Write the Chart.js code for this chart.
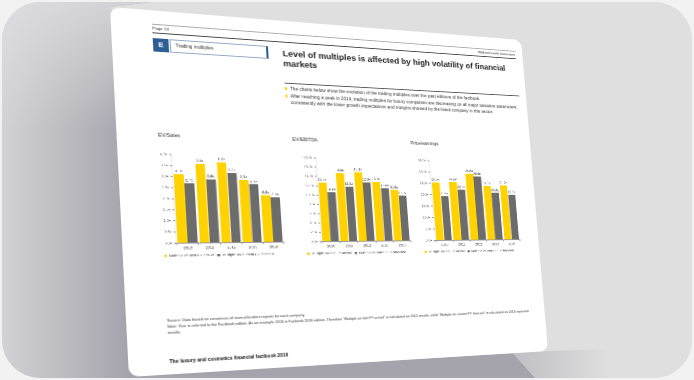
<!DOCTYPE html>
<html>
<head>
<meta charset="utf-8">
<script src="https://cdn.jsdelivr.net/npm/chart.js@4.4.0/dist/chart.umd.min.js"></script>
<style>
  html, body { margin: 0; padding: 0; width: 694px; height: 380px; overflow: hidden; background: #f2f2f3; }
  #frame { position: absolute; left: 2px; top: 2px; width: 690px; height: 376px; border-radius: 38px; overflow: hidden; background: #dfdfdf; }
  #bg { position: absolute; left: -2px; top: -2px; }
  #page { position: absolute; left: 0; top: 0; width: 420px; height: 370px; background: #fff; border-radius: 9px;
          transform-origin: 0 0; font-family: "Liberation Sans Narrow", "Liberation Sans", Arial, sans-serif; color: #333; }
  #page div, #page canvas { position: absolute; }
  .rule { height: 0; }
  .small { font-size: 4px; white-space: nowrap; }
  .ebox { background: #2d5d95; color: #fff; font: bold 7px "Liberation Sans", Arial, sans-serif; text-align: center; line-height: 14px; }
  .tbox { border: 0.6px solid #8fa8c6; border-right: 2.2px solid #2d5d95; font-size: 4.6px; line-height: 12px; padding-left: 4px; box-sizing: border-box; }
  .title { font-weight: bold; font-size: 8.8px; line-height: 10.5px; color: #222; }
  .bullet { font-size: 4.7px; line-height: 7px; padding-left: 5px; }
  .bullet i { position: absolute; left: 0; top: 2.4px; width: 2.2px; height: 2.2px; background: #ffd200; }
  .ctitle { font-size: 4.8px; color: #333; white-space: nowrap; }
  .foot { font-weight: bold; font-size: 4.6px; white-space: nowrap; color: #111; }
</style>
</head>
<body>
<div id="frame"><canvas id="bg" width="694" height="380"></canvas></div>

<div id="page">
  <div class="rule" style="left:36px; top:14px; width:376px; border-top:0.5px solid #aaa;"></div>
  <div class="small" style="left:36px; top:16px;">Page 24</div>
  <div class="small" style="right:9px; top:17px; font-size:3.4px;">M&amp;A and wealth transactions</div>
  <div class="rule" style="left:36px; top:23px; width:376px; border-top:1px solid #444;"></div>

  <div class="ebox" style="left:36px; top:29px; width:14px; height:14px;">E</div>
  <div class="tbox" style="left:51px; top:29px; width:92px; height:14px;">Trading multiples</div>

  <div class="title" style="left:157px; top:31px; width:255px;">Level of multiples is affected by high volatility of financial markets</div>
  <div class="rule" style="left:157px; top:68px; width:255px; border-top:1.2px solid #555;"></div>
  <div class="bullet" style="left:157px; top:71px; width:252px;"><i></i>The charts below show the evolution of the trading multiples over the past editions of the factbook.</div>
  <div class="bullet" style="left:157px; top:79px; width:252px;"><i></i>After reaching a peak in 2014, trading multiples for luxury companies are decreasing on all major valuation parameters, consistently with the lower growth expectations and margins showed by the listed company in this sector.</div>

  <div class="ctitle" style="left:36px; top:127px;">EV/Sales</div>
  <div class="ctitle" style="left:161px; top:127px;">EV/EBITDA</div>
  <div class="ctitle" style="left:283px; top:127px;">Price/earnings</div>

  <canvas id="c1" style="left:26px; top:144px; width:122px; height:120px;"></canvas>
  <canvas id="c2" style="left:162px; top:144px; width:115px; height:120px;"></canvas>
  <canvas id="c3" style="left:281px; top:144px; width:119px; height:120px;"></canvas>

  <div class="small" style="left:35px; top:314px; width:376px; white-space:normal; font-size:3.6px; line-height:6px;">Source: Data based on consensus of several brokers reports for each company.<br>Note: Year is referred to the Factbook edition. As an example 2016 is Factbook 2016 edition. Therefore "Multiple on last FY actual" is calculated on 2015 results, while "Multiple on current FY forecast" is calculated on 2016 expected results.</div>
  <div class="foot" style="left:35px; top:355px;">The luxury and cosmetics financial factbook 2016</div>
</div>

<script>
// data
const years = ['2010', '2011', '2012', '2013', '2014'];
const seriesNames = ['Multiple on last FY actual', 'Multiple on current FY forecast'];

const evSalesActual = [3.1, 3.6, 3.7, 2.9, 2.2];
const evSalesForecast = [2.7, 2.9, 3.2, 2.7, 2.1];

const evEbitdaActual = [12.7, 14.8, 15.1, 13.0, 11.3];
const evEbitdaForecast = [10.6, 11.9, 12.9, 11.6, 10.0];

const peActual = [25.5, 25.6, 29.6, 24.2, 24.6];
const peForecast = [19.4, 22.4, 28.4, 21.2, 20.4];

const axisMax = [4, 18, 35];
const axisStep = [0.5, 2, 5];

const YELLOW = '#ffd200';
const GREY = '#6c6c6c';

// page corners in the photo: TL, TR, BR, BL
const corners = [[110, 7], [521, 40], [548, 351], [129, 377]];

function quadTransform(w, h, p) {
  const [x0, y0] = p[0], [x1, y1] = p[1], [x2, y2] = p[2], [x3, y3] = p[3];
  const dx1 = x1 - x2, dx2 = x3 - x2, dx3 = x0 - x1 + x2 - x3;
  const dy1 = y1 - y2, dy2 = y3 - y2, dy3 = y0 - y1 + y2 - y3;
  const den = dx1 * dy2 - dx2 * dy1;
  const g = (dx3 * dy2 - dx2 * dy3) / den;
  const hh = (dx1 * dy3 - dx3 * dy1) / den;
  const a = x1 - x0 + g * x1, b = x3 - x0 + hh * x3, c = x0;
  const d = y1 - y0 + g * y1, e = y3 - y0 + hh * y3, f = y0;
  const m = [a / w, d / w, 0, g / w, b / h, e / h, 0, hh / h, 0, 0, 1, 0, c, f, 0, 1];
  return 'matrix3d(' + m.join(',') + ')';
}

document.getElementById('page').style.transform = quadTransform(420, 370, corners);

// backdrop with the page's shadow
(function drawBackdrop() {
  const ctx = document.getElementById('bg').getContext('2d');
  ctx.fillStyle = '#dfdfdf';
  ctx.fillRect(0, 0, 694, 380);

  ctx.beginPath();
  ctx.moveTo(168, 0); ctx.lineTo(0, 0); ctx.lineTo(0, 380); ctx.lineTo(537, 380);
  ctx.lineTo(513, 353); ctx.lineTo(300, 366); ctx.lineTo(110, 7);
  ctx.closePath();
  let g = ctx.createLinearGradient(0, 0, 128, 0);
  g.addColorStop(0, '#d3d3d5');
  g.addColorStop(1, '#a5a4ad');
  ctx.fillStyle = g;
  ctx.fill();
  ctx.save();
  ctx.clip();
  g = ctx.createLinearGradient(0, 0, 0, 130);
  g.addColorStop(0, 'rgba(226,226,228,0.75)');
  g.addColorStop(1, 'rgba(226,226,228,0)');
  ctx.fillStyle = g;
  ctx.fillRect(0, 0, 694, 140);
  ctx.restore();

  ctx.beginPath();
  ctx.moveTo(513, 353); ctx.lineTo(537, 380); ctx.lineTo(640, 380); ctx.lineTo(640, 348); ctx.lineTo(548, 351);
  ctx.closePath();
  g = ctx.createLinearGradient(525, 0, 610, 0);
  g.addColorStop(0, '#c3c3c7');
  g.addColorStop(1, '#dfdfdf');
  ctx.fillStyle = g;
  ctx.fill();
})();

const barLabels = {
  id: 'barLabels',
  afterDatasetsDraw(chart) {
    const ctx = chart.ctx;
    ctx.save();
    ctx.font = '3.6px "Liberation Sans Narrow", "Liberation Sans", Arial';
    ctx.fillStyle = '#444';
    ctx.textAlign = 'center';
    ctx.textBaseline = 'bottom';
    chart.data.datasets.forEach((ds, i) => {
      chart.getDatasetMeta(i).data.forEach((bar, j) => {
        ctx.fillText(ds.data[j].toFixed(1) + 'x', bar.x, bar.y - 1.2);
      });
    });
    ctx.restore();
  }
};

function makeChart(id, actual, forecast, max, step) {
  const font = { family: '"Liberation Sans Narrow", "Liberation Sans", Arial', size: 3.6 };
  new Chart(document.getElementById(id), {
    type: 'bar',
    data: {
      labels: years,
      datasets: [
        { label: seriesNames[0], data: actual, backgroundColor: YELLOW },
        { label: seriesNames[1], data: forecast, backgroundColor: GREY }
      ]
    },
    options: {
      responsive: false,
      animation: false,
      devicePixelRatio: 4,
      categoryPercentage: 0.92,
      barPercentage: 0.96,
      layout: { padding: { top: 5, right: 2, left: 0, bottom: 0 } },
      plugins: {
        legend: {
          position: 'bottom',
          align: 'center',
          labels: { font: font, color: '#555', boxWidth: 2.5, boxHeight: 2.5, padding: 3 }
        },
        tooltip: { enabled: false }
      },
      scales: {
        x: {
          grid: { drawOnChartArea: false, tickLength: 2, color: '#999', offset: true },
          border: { color: '#999', width: 0.6 },
          ticks: { font: font, color: '#555', padding: 1 },
          afterFit: s => { s.height = 8; }
        },
        y: {
          min: 0, max: max,
          grid: { drawOnChartArea: false, tickLength: 2, color: '#999' },
          border: { color: '#999', width: 0.6 },
          ticks: { stepSize: step, font: font, color: '#555', padding: 1.5, callback: v => v.toFixed(1) + 'x' },
          afterFit: s => { s.width = 21; }
        }
      }
    },
    plugins: [barLabels]
  });
}

makeChart('c1', evSalesActual, evSalesForecast, axisMax[0], axisStep[0]);
makeChart('c2', evEbitdaActual, evEbitdaForecast, axisMax[1], axisStep[1]);
makeChart('c3', peActual, peForecast, axisMax[2], axisStep[2]);
</script>
</body>
</html>
